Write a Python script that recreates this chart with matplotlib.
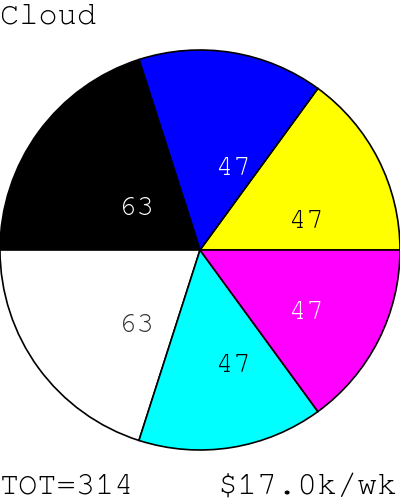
import matplotlib
matplotlib.use("Agg")
import matplotlib.pyplot as plt
import matplotlib.transforms as mtransforms
import logging
logging.getLogger("matplotlib.font_manager").setLevel(logging.ERROR)

title = "Cloud"
values = [47, 47, 63, 63, 47, 47]
colors = ["#ffff00", "#0000ff", "#000000", "#ffffff", "#00ffff", "#ff00ff"]
label_colors = ["#000000", "#ffffff", "#ffffff", "#333333", "#000000", "#ffffff"]
footer_left = "TOT=%d" % sum(values)
footer_right = "$17.0k/wk"

FONT = ["Courier New", "Nimbus Mono PS", "FreeMono", "Liberation Mono", "DejaVu Sans Mono"]

fig = plt.figure(figsize=(4, 5), dpi=100)
ax = fig.add_axes([0, 0.1, 1, 0.8])
wedges, texts = ax.pie(values, colors=colors, startangle=0, counterclock=True,
                       labels=[str(v) for v in values], labeldistance=0.5,
                       radius=1.0,
                       wedgeprops=dict(edgecolor="black", linewidth=1.2))
shift = mtransforms.ScaledTranslation(0, -4 / 72, fig.dpi_scale_trans)
for t, c in zip(texts, label_colors):
    t.set_ha("left")
    t.set_va("top")
    t.set_color(c)
    t.set_family(FONT)
    t.set_fontsize(21)
    t.set_transform(t.get_transform() + shift)
ax.set_xlim(-1.0, 1.0)
ax.set_ylim(-1.0, 1.0)
ax.set_aspect("equal")
ax.axis("off")

fig.text(0.0, 0.993, title, ha="left", va="top", fontsize=23, family=FONT)
fig.text(0.0, 0.0, footer_left, ha="left", va="bottom", fontsize=23, family=FONT)
fig.text(0.993, 0.0, footer_right, ha="right", va="bottom", fontsize=24, family=FONT)

fig.savefig("out.png", dpi=100)
